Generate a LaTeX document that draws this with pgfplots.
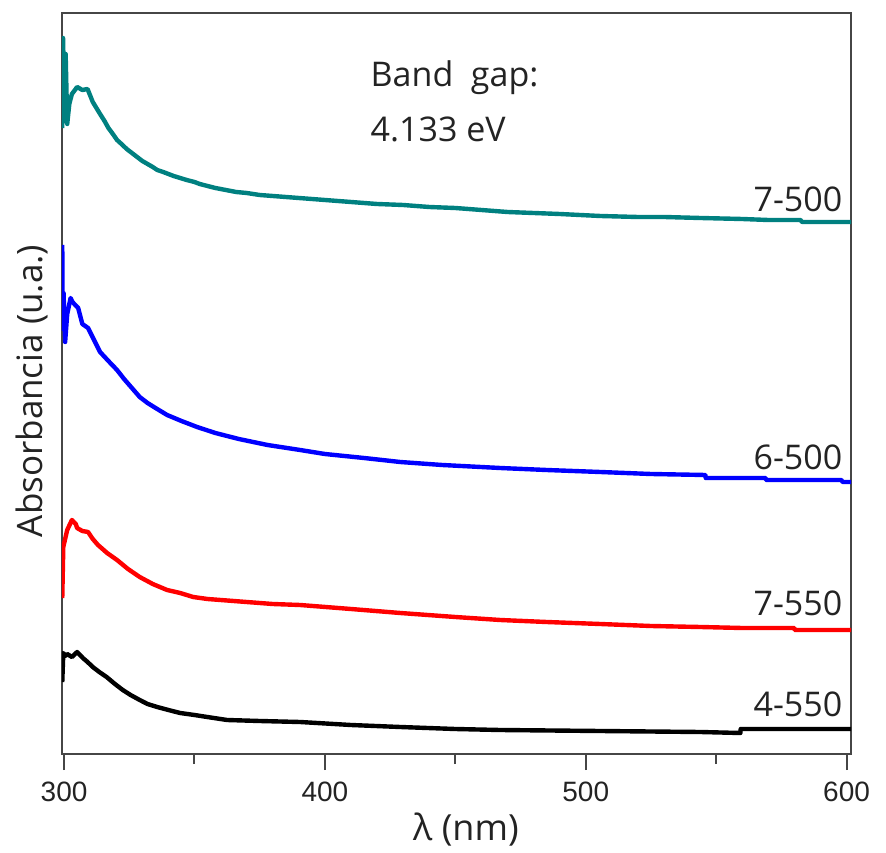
\documentclass[border=0pt]{standalone}
\usepackage{pgfplots}
\pgfplotsset{compat=1.18}
\usepackage{fontspec}
\setmainfont{Open Sans}
\newfontfamily\tickfont{Liberation Sans}
\definecolor{tealc}{RGB}{0,128,128}
\definecolor{spine}{RGB}{70,70,70}
\definecolor{txt}{RGB}{35,35,35}
\begin{document}
\begin{tikzpicture}
\begin{axis}[
  scale only axis, width=394.5bp, height=370.5bp,
  xmin=299.2, xmax=601.7, ymin=0, ymax=741,
  axis line style={spine, line width=1bp},
  ytick=\empty,
  xtick={300,400,500,600}, minor xtick={350,450,550},
  tick align=outside, xtick pos=bottom,
  major tick length=8bp, minor tick length=5bp,
  every tick/.style={spine, line width=1bp},
  /pgf/number format/assume math mode=true,
  xticklabel style={font=\tickfont\fontsize{14bp}{16bp}\selectfont, text=txt, inner sep=0pt, anchor=north, yshift=-6bp},
  xlabel={λ (nm)},
  xlabel style={at={(axis description cs:0.512,-0.0796)}, anchor=north, inner sep=0pt, font=\fontsize{18bp}{20bp}\selectfont, text=txt},
  ylabel={Absorbancia (u.a.)},
  ylabel style={at={(axis description cs:-0.0177,0.49)}, anchor=south, inner sep=0pt, rotate=0, font=\fontsize{17.5bp}{20bp}\selectfont, text=txt},
  every axis plot/.append style={line width=2.2bp, line join=round},
]
% 7-500 (teal)
\addplot[tealc] coordinates {
(299.3,626)(299.6,716)(300.2,640)(300.6,700)(301.2,630)(302.0,650)(303,660)(305,667)(307,664)(309,665)(311,652)(313.8,640)(315.5,633)(317,626)(318.7,620)(320.3,614)(322,610)(324,605)(326,601)(328,597)(330,593)(332,590)(334,587)(335.7,584)(338,582)(340,580)(342,578)(344.5,576)(347,574)(350,572)(352,570)(355,568)(358,566)(362,564)(366,562)(370,561)(375,559)(380,558)(385,557)(390,556)(400,554)(410,552)(420,550)(430,549)(440,547)(450,546)(460,544)(470,542)(480,541)(490,540)(505.6,538)(520,537)(530,537)(544,536)(560,535)(570,534)(582.3,534)(583,532)(601.7,532)
};
% 6-500 (blue)
\addplot[blue] coordinates {
(299.3,509)(299.5,425)(299.8,461)(300.4,412)(301.2,440)(302.5,456)(303.2,452)(305.4,446)(307,430)(309.2,426)(311.5,414)(313.8,402)(317,393)(320.3,384)(323,375)(326,366)(329,357)(332,351)(335.7,345)(339.5,339)(345,333)(351,327)(358,321)(367,315)(378,309)(390.5,304)(400,300)(415,296)(428.9,292)(445,289)(467.2,286)(485,284)(505.6,282)(525,280)(545.9,279)(546,276)(569,276)(569.1,274)(598,274)(598.5,272)(601.7,272)
};
% 7-550 (red)
\addplot[red] coordinates {
(299.3,156)(299.7,207)(300.4,215)(301.2,224)(303,234)(304.5,230)(305,226)(307,223)(309.2,222)(311,215)(313,209)(316.5,201)(320.3,194)(324.5,185)(329,177)(334,170)(339.5,164)(344.5,161)(349.5,157)(355,155)(360,154)(370,152)(380,150)(390.5,149)(410,145)(428.9,141)(450,137)(467.2,134)(485,132)(505.6,130)(525,128)(544,127)(560,126)(580,126)(580.1,124)(601.7,124)
};
% 4-550 (black)
\addplot[black] coordinates {
(299.3,72)(299.7,101)(300.4,98)(301.2,100)(303,97)(305,102)(307.2,96)(309,92)(311,87)(313.5,82)(316.3,77)(319.5,70)(322.5,64)(325.5,59)(329,54)(332,50)(335.7,47)(340,44)(344.5,41)(350,39)(354.9,37)(362.5,34)(375,33)(390.5,32)(410,29)(428.9,27)(450,25)(467.2,24)(505.6,23)(544,22)(559.3,21)(559.4,25)(601.7,25)
};
\node[anchor=base east, inner sep=0pt, text=txt, font=\fontsize{17bp}{20bp}\selectfont] at (axis cs:598.5,542) {7-500};
\node[anchor=base east, inner sep=0pt, text=txt, font=\fontsize{17bp}{20bp}\selectfont] at (axis cs:598.5,284) {6-500};
\node[anchor=base east, inner sep=0pt, text=txt, font=\fontsize{17bp}{20bp}\selectfont] at (axis cs:598.5,139) {7-550};
\node[anchor=base east, inner sep=0pt, text=txt, font=\fontsize{17bp}{20bp}\selectfont] at (axis cs:598.5,38) {4-550};
\node[anchor=base west, inner sep=0pt, text=txt, font=\fontsize{17bp}{20bp}\selectfont] at (axis cs:417.4,667) {Band\ \ gap:};
\node[anchor=base west, inner sep=0pt, text=txt, font=\fontsize{17bp}{20bp}\selectfont] at (axis cs:417.4,612) {4.133 eV};
\end{axis}
\path[use as bounding box] ([shift={(-31bp,-49.5bp)}]current axis.south west) rectangle ([shift={(17.5bp,6.5bp)}]current axis.north east);
\end{tikzpicture}
\end{document}
